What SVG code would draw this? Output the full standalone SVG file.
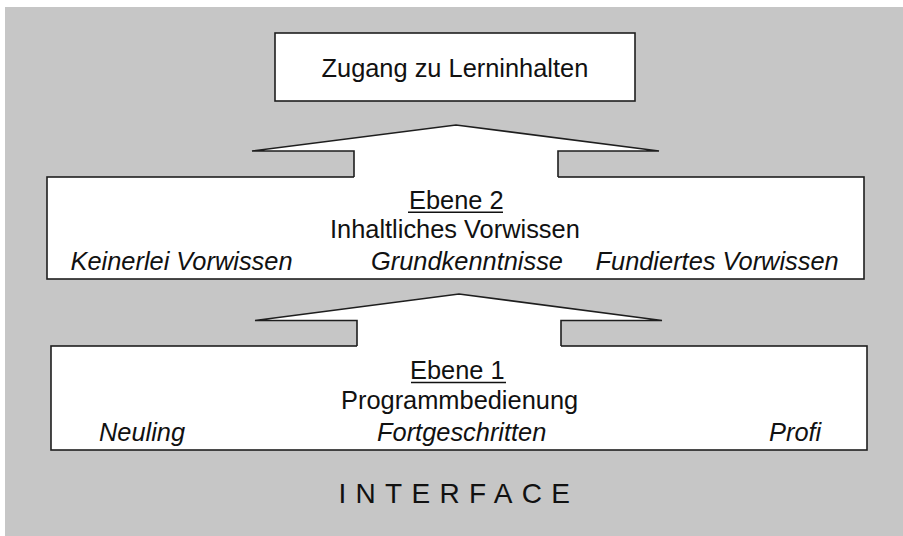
<svg xmlns="http://www.w3.org/2000/svg" width="903" height="536" viewBox="0 0 903 536">
<style>
.box{fill:#fff;stroke:#1e1e1e;stroke-width:1.6}
.arrowfill{fill:#fff;stroke:none}
.arrowline{fill:none;stroke:#1e1e1e;stroke-width:1.6;stroke-linejoin:miter}
.t{font-family:"Liberation Sans",Arial,sans-serif;font-size:25.4px;fill:#111}
.i{font-style:italic}
.ul{stroke:#111;stroke-width:1.5}
</style>
<rect x="0" y="0" width="903" height="536" fill="#fff"/>
<rect x="5" y="7" width="898" height="529" fill="#c6c6c6"/>
<g id="node-lerninhalte">
<rect class="box" x="275" y="33" width="360" height="68"/>
<text class="t" x="321.5" y="77">Zugang zu Lerninhalten</text>
</g>
<g id="node-ebene2">
<rect class="box" x="47" y="177" width="817" height="102"/>
<text class="t" x="409" y="208.5">Ebene 2</text>
<line class="ul" x1="408" y1="212.3" x2="503" y2="212.3"/>
<text class="t" x="330" y="237.5">Inhaltliches Vorwissen</text>
<text class="t i" x="70.5" y="269.5">Keinerlei Vorwissen</text>
<text class="t i" x="371" y="269.5">Grundkenntnisse</text>
<text class="t i" x="595.5" y="269.5">Fundiertes Vorwissen</text>
</g>
<g id="node-ebene1">
<rect class="box" x="51" y="346" width="816" height="104"/>
<text class="t" x="410" y="379">Ebene 1</text>
<line class="ul" x1="411" y1="382.5" x2="506" y2="382.5"/>
<text class="t" x="341" y="409">Programmbedienung</text>
<text class="t i" x="99" y="441">Neuling</text>
<text class="t i" x="377" y="441">Fortgeschritten</text>
<text class="t i" x="769" y="441">Profi</text>
</g>
<g id="connectors">
<polygon class="arrowfill" points="354,178.6 354,151 252,151 456,125 659,151 558,151 558,178.6"/>
<polyline class="arrowline" points="354,177 354,151 252,151 456,125 659,151 558,151 558,177"/>
<polygon class="arrowfill" points="357,346.9 357,320.5 255,320.5 459,294 662,320.5 561,320.5 561,346.9"/>
<polyline class="arrowline" points="357,346 357,320.5 255,320.5 459,294 662,320.5 561,320.5 561,346"/>
</g>
<text class="t" x="338.5" y="503" style="font-size:28px;letter-spacing:9.3px">INTERFACE</text>
</svg>
